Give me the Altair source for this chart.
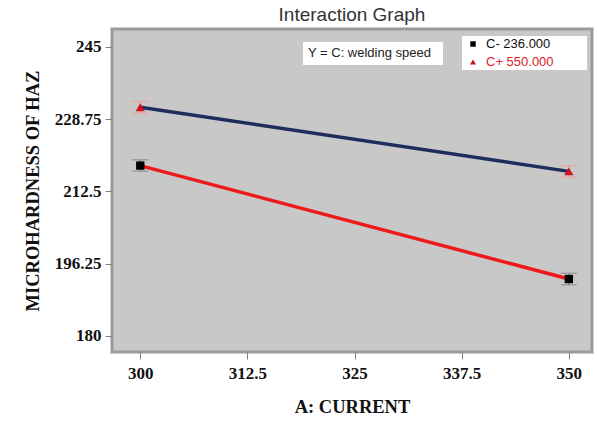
import altair as alt
import pandas as pd

# Interaction of current (A) and welding speed (C) on HAZ microhardness
current = [300, 350, 300, 350]
level = ["C- 236.000", "C- 236.000", "C+ 550.000", "C+ 550.000"]
hardness = [218.3, 192.8, 231.4, 217.0]
half_ci = [1.3, 1.3, 1.3, 1.3]

x_ticks = [300, 312.5, 325, 337.5, 350]
y_ticks = [180, 196.25, 212.5, 228.75, 245]

df = pd.DataFrame({"current": current, "level": level, "hardness": hardness})
df["lo"] = [h - e for h, e in zip(hardness, half_ci)]
df["hi"] = [h + e for h, e in zip(hardness, half_ci)]

lo_df = df[df["level"] == "C- 236.000"]
hi_df = df[df["level"] == "C+ 550.000"]

xs = alt.Scale(domain=[296.7, 352.7], nice=False, zero=False)
ys = alt.Scale(domain=[176.4, 249.0], nice=False, zero=False)

x_enc = alt.X("current:Q", scale=xs, title="A: CURRENT",
              axis=alt.Axis(values=x_ticks, grid=False, tickColor="#808080", tickSize=7,
                            labelFont="Liberation Serif", labelFontWeight="bold",
                            labelFontSize=17, labelColor="#111", labelPadding=6,
                            titleFont="Liberation Serif", titleFontWeight="bold",
                            titleFontSize=18.5, titleColor="#111", titlePadding=16,
                            domain=False, labelExpr="datum.value"))
y_enc = alt.Y("hardness:Q", scale=ys, title="MICROHARDNESS OF HAZ",
              axis=alt.Axis(values=y_ticks, grid=False, tickColor="#808080", tickSize=7,
                            labelFont="Liberation Serif", labelFontWeight="bold",
                            labelFontSize=17, labelColor="#111", labelPadding=4,
                            titleFont="Liberation Serif", titleFontWeight="bold",
                            titleFontSize=18.5, titleColor="#111", titlePadding=12,
                            domain=False, labelExpr="datum.value"))

line_lo = alt.Chart(lo_df).mark_line(color="#ee1a1a", strokeWidth=3.5).encode(x=x_enc, y=y_enc)
line_hi = alt.Chart(hi_df).mark_line(color="#1e2d5c", strokeWidth=3.5).encode(x="current:Q", y="hardness:Q")

err_lo = alt.Chart(lo_df).mark_rule(color="#8a8a8a", strokeWidth=1.5).encode(
    x="current:Q", y="lo:Q", y2="hi:Q")
err_hi = alt.Chart(hi_df).mark_rule(color="#f2a0a0", strokeWidth=1.5).encode(
    x="current:Q", y="lo:Q", y2="hi:Q")

cap_lo_a = alt.Chart(lo_df).mark_tick(color="#8a8a8a", orient="horizontal", size=16, thickness=1.5).encode(
    x="current:Q", y="lo:Q")
cap_lo_b = alt.Chart(lo_df).mark_tick(color="#8a8a8a", orient="horizontal", size=16, thickness=1.5).encode(
    x="current:Q", y="hi:Q")
cap_hi_a = alt.Chart(hi_df).mark_tick(color="#f2a0a0", orient="horizontal", size=16, thickness=1.5).encode(
    x="current:Q", y="lo:Q")
cap_hi_b = alt.Chart(hi_df).mark_tick(color="#f2a0a0", orient="horizontal", size=16, thickness=1.5).encode(
    x="current:Q", y="hi:Q")

pts_lo = alt.Chart(lo_df).mark_point(shape="square", filled=True, color="#000000", size=70, opacity=1).encode(
    x="current:Q", y="hardness:Q")
pts_hi = alt.Chart(hi_df).mark_point(shape="triangle-up", filled=True, color="#d0101a", size=85, opacity=1).encode(
    x="current:Q", y="hardness:Q")

# annotation boxes inside the plot
anno = pd.DataFrame({"k": [0]})
box1 = alt.Chart(anno).mark_rect(fill="white").encode(
    x=alt.value(191), x2=alt.value(331), y=alt.value(13), y2=alt.value(36))
txt1 = alt.Chart(anno).mark_text(text="Y = C: welding speed", font="Liberation Sans", fontSize=13,
                                 color="#222", align="left", baseline="middle").encode(
    x=alt.value(196), y=alt.value(24))
box2 = alt.Chart(anno).mark_rect(fill="white").encode(
    x=alt.value(350), x2=alt.value(475), y=alt.value(7), y2=alt.value(41))
leg_sq = alt.Chart(anno).mark_point(shape="square", filled=True, color="#000", size=30, opacity=1).encode(
    x=alt.value(361), y=alt.value(15))
leg_tri = alt.Chart(anno).mark_point(shape="triangle-up", filled=True, color="#c01018", size=34, opacity=1).encode(
    x=alt.value(361), y=alt.value(33))
leg_t1 = alt.Chart(anno).mark_text(text="C- 236.000", font="Liberation Sans", fontSize=13,
                                   color="#111", align="left", baseline="middle").encode(
    x=alt.value(374), y=alt.value(15))
leg_t2 = alt.Chart(anno).mark_text(text="C+ 550.000", font="Liberation Sans", fontSize=13,
                                   color="#e0202a", align="left", baseline="middle").encode(
    x=alt.value(374), y=alt.value(33))

chart = alt.layer(
    line_lo, line_hi, err_lo, err_hi, cap_lo_a, cap_lo_b, cap_hi_a, cap_hi_b,
    pts_lo, pts_hi, box1, txt1, box2, leg_sq, leg_tri, leg_t1, leg_t2
).properties(
    width=480, height=323,
    background="white",
    title=alt.TitleParams("Interaction Graph", font="Liberation Sans", fontSize=19,
                          fontWeight="normal", color="#333", offset=4),
    autosize=alt.AutoSizeParams(type="none"),
    padding={"left": 112, "top": 29, "right": 5, "bottom": 69},
).configure_view(
    fill="#c8c8c8", stroke="#9a9a9a", strokeWidth=3
)

chart.save("out.html", embed_options={"renderer": "svg", "actions": False})
